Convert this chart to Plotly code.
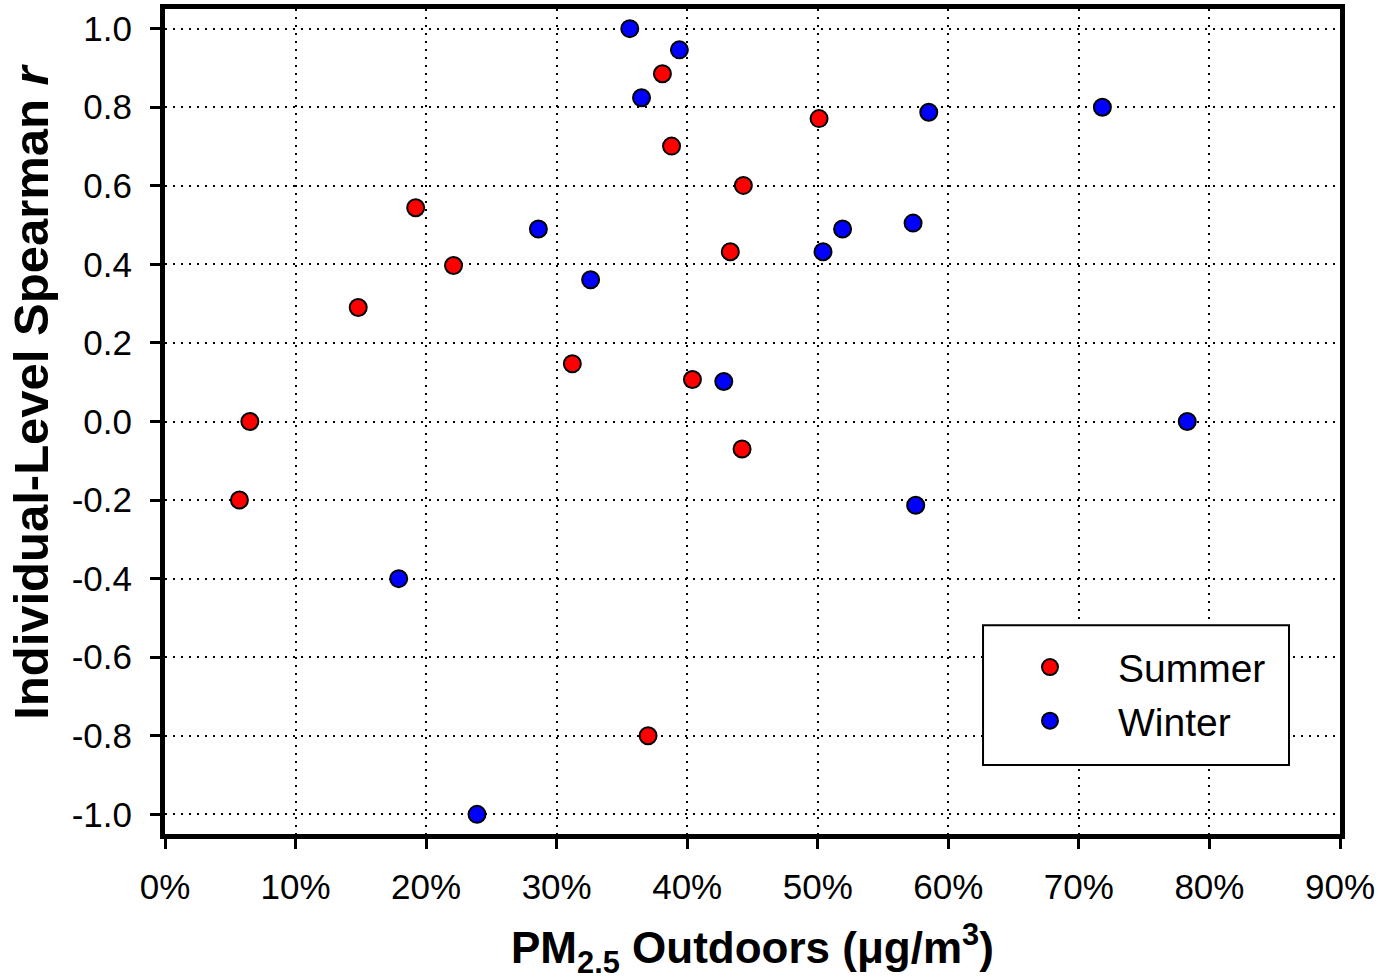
import plotly.graph_objects as go

# Share of PM2.5 outdoors (fraction) vs. individual-level Spearman r
summer_x = [0.065, 0.057, 0.148, 0.192, 0.221, 0.312, 0.370, 0.381, 0.388, 0.404, 0.433, 0.443, 0.442, 0.501]
summer_r = [0.00, -0.20, 0.29, 0.544, 0.397, 0.147, -0.80, 0.885, 0.701, 0.107, 0.432, 0.601, -0.070, 0.771]

winter_x = [0.356, 0.394, 0.365, 0.585, 0.718, 0.286, 0.326, 0.573, 0.519, 0.504, 0.428, 0.783, 0.575, 0.179, 0.239]
winter_r = [1.00, 0.946, 0.824, 0.787, 0.80, 0.490, 0.361, 0.505, 0.490, 0.432, 0.102, 0.00, -0.213, -0.40, -1.00]

x_ticks = [0.0, 0.1, 0.2, 0.3, 0.4, 0.5, 0.6, 0.7, 0.8, 0.9]
x_tick_labels = ["0%", "10%", "20%", "30%", "40%", "50%", "60%", "70%", "80%", "90%"]
y_ticks = [1.0, 0.8, 0.6, 0.4, 0.2, 0.0, -0.2, -0.4, -0.6, -0.8, -1.0]
y_tick_labels = ["1.0", "0.8", "0.6", "0.4", "0.2", "0.0", "-0.2", "-0.4", "-0.6", "-0.8", "-1.0"]

FONT = "Liberation Sans, Arial, Helvetica, sans-serif"

fig = go.Figure()
fig.add_trace(go.Scatter(
    x=summer_x, y=summer_r, mode="markers", name="Summer",
    marker=dict(size=17, color="#ff0000", line=dict(color="black", width=2)),
))
fig.add_trace(go.Scatter(
    x=winter_x, y=winter_r, mode="markers", name="Winter",
    marker=dict(size=17, color="#0000ff", line=dict(color="black", width=2)),
))

axis_common = dict(
    showline=True, linecolor="black", linewidth=5, mirror=True,
    showgrid=True, gridcolor="black", gridwidth=2, griddash="2px,6px",
    zeroline=False, ticks="outside", ticklen=10, tickwidth=3, tickcolor="black",
    tickfont=dict(family=FONT, size=35, color="black"),
    automargin=False,
)

fig.update_xaxes(range=[0, 0.9], tickvals=x_ticks, ticktext=x_tick_labels,
                 ticklabelstandoff=8, **axis_common)
fig.update_yaxes(range=[-1.05, 1.05], tickvals=y_ticks, ticktext=y_tick_labels,
                 ticklabelstandoff=11, **axis_common)

# Legend frame
fig.add_shape(type="rect", xref="paper", yref="paper",
              x0=0.6962, x1=0.9566, y0=0.0835, y1=0.2531,
              line=dict(color="black", width=2), fillcolor="white", layer="above")

fig.add_annotation(
    text="<b>Individual-Level Spearman <i>r</i></b>",
    xref="paper", yref="paper", x=-0.114, y=0.536, textangle=-90,
    showarrow=False, xanchor="center", yanchor="middle",
    font=dict(family=FONT, size=49, color="black"),
)
fig.add_annotation(
    text="<b>PM<sub>2.5</sub> Outdoors (μg/m<sup>3</sup>)</b>",
    xref="paper", yref="paper", x=0.5, y=-0.139,
    showarrow=False, xanchor="center", yanchor="middle",
    font=dict(family=FONT, size=44, color="black"),
)

fig.update_layout(
    width=1389, height=980,
    margin=dict(l=165, r=49, t=9, b=146, autoexpand=False),
    plot_bgcolor="white", paper_bgcolor="white",
    font=dict(family=FONT, color="black"),
    showlegend=True,
    legend=dict(
        x=0.6953, y=0.241, xanchor="left", yanchor="top",
        bgcolor="rgba(0,0,0,0)", borderwidth=0,
        font=dict(family=FONT, size=39, color="black"),
        itemwidth=126,
    ),
)

fig.write_html("out.html")
